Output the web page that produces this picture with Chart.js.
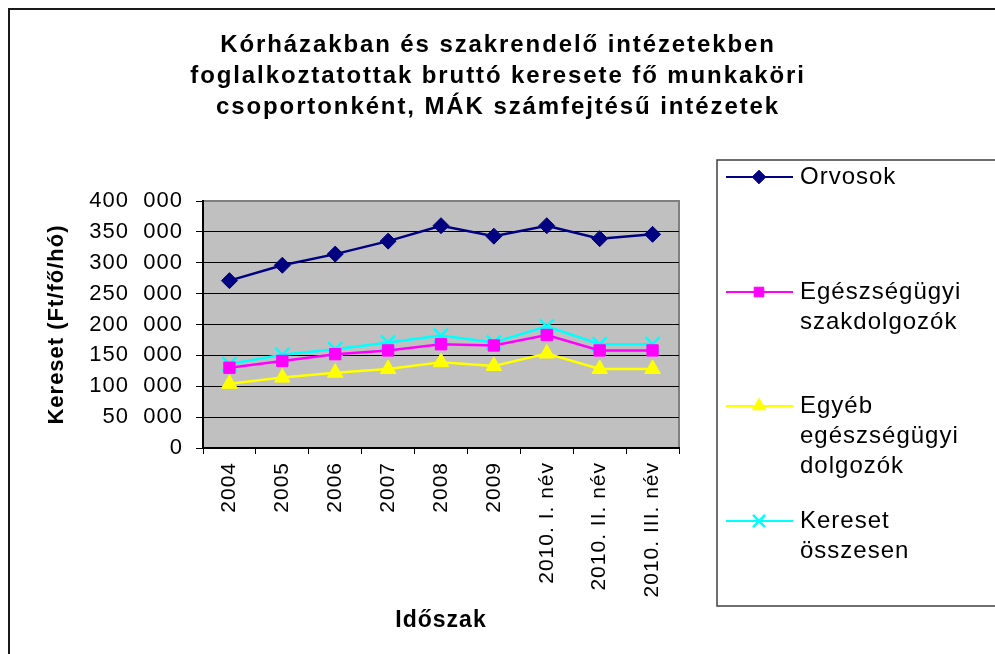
<!DOCTYPE html>
<html>
<head>
<meta charset="utf-8">
<script src="https://cdn.jsdelivr.net/npm/chart.js@4/dist/chart.umd.min.js"></script>
<style>
  html, body { margin: 0; padding: 0; background: #ffffff; }
  #wrap { width: 995px; height: 654px; }
</style>
</head>
<body>
<div id="wrap"><canvas id="c" width="995" height="654"></canvas></div>
<script>
// ---- data ----
const categories = ['2004', '2005', '2006', '2007', '2008', '2009', '2010. I. név', '2010. II. név', '2010. III. név'];
const orvosok = [271000, 296000, 314000, 335000, 360000, 343000, 360000, 339000, 346000];
const egeszsegugyiSzakdolgozok = [130000, 141000, 152000, 158000, 168000, 166000, 183000, 158000, 158000];
const egyebEgeszsegugyiDolgozok = [104000, 114000, 122000, 128000, 139000, 133000, 153000, 128000, 128000];
const keresetOsszesen = [136000, 151000, 160000, 171000, 182000, 171000, 197000, 168000, 168000];
const seriesNames = [['Orvosok'], ['Egészségügyi', 'szakdolgozók'], ['Egyéb', 'egészségügyi', 'dolgozók'], ['Kereset', 'összesen']];
const yTickValues = [0, 50000, 100000, 150000, 200000, 250000, 300000, 350000, 400000];
const titleLines = ['Kórházakban és szakrendelő intézetekben', 'foglalkoztatottak bruttó keresete fő munkaköri', 'csoportonként, MÁK számfejtésű intézetek'];
const yAxisTitle = 'Kereset (Ft/fő/hó)';
const xAxisTitle = 'Időszak';

const FONT = '"Liberation Sans", Arial, sans-serif';

function fmt(v) {
  const s = String(v);
  if (s.length <= 3) return s;
  return s.slice(0, s.length - 3) + '  ' + s.slice(s.length - 3);
}

const frame = {
  id: 'frame',
  beforeDraw(chart) {
    const ctx = chart.ctx;
    const a = chart.chartArea;
    ctx.save();
    ctx.fillStyle = '#ffffff';
    ctx.fillRect(0, 0, chart.width, chart.height);
    // outer border
    ctx.strokeStyle = '#1a1a1a';
    ctx.lineWidth = 2;
    ctx.strokeRect(9, 9, chart.width + 20, chart.height + 20);
    // plot background
    ctx.fillStyle = '#c0c0c0';
    ctx.fillRect(a.left, a.top, a.right - a.left, a.bottom - a.top);
    ctx.strokeStyle = '#808080';
    ctx.lineWidth = 2;
    ctx.beginPath();
    ctx.moveTo(a.left, a.top);
    ctx.lineTo(a.right, a.top);
    ctx.lineTo(a.right, a.bottom);
    ctx.stroke();
    ctx.restore();
    ctx.letterSpacing = '1px';
  },
  afterDraw(chart) {
    const ctx = chart.ctx;
    ctx.save();
    // title
    ctx.fillStyle = '#000000';
    ctx.letterSpacing = '1.9px';
    ctx.font = 'bold 24px ' + FONT;
    ctx.textAlign = 'center';
    ctx.textBaseline = 'alphabetic';
    titleLines.forEach((t, i) => ctx.fillText(t, 498, 52 + i * 31));
    // legend box
    ctx.letterSpacing = '0px';
    ctx.strokeStyle = '#404040';
    ctx.lineWidth = 1.5;
    ctx.strokeRect(717, 160, 400, 446);
    const ys = [177, 292, 406, 521];
    chart.data.datasets.forEach((ds, i) => {
      const y = ys[i];
      ctx.strokeStyle = ds.borderColor;
      ctx.lineWidth = 2;
      ctx.beginPath();
      ctx.moveTo(726, y);
      ctx.lineTo(793, y);
      ctx.stroke();
      ctx.fillStyle = ds.pointBackgroundColor;
      ctx.strokeStyle = ds.pointBorderColor;
      ctx.lineWidth = ds.pointBorderWidth;
      Chart.helpers.drawPoint(ctx, {pointStyle: ds.pointStyle, radius: ds.pointRadius * 0.85, rotation: 0, borderWidth: ds.pointBorderWidth}, 759, y);
      ctx.fillStyle = '#000000';
      ctx.letterSpacing = '1px';
      ctx.font = '24px ' + FONT;
      ctx.textAlign = 'left';
      ctx.textBaseline = 'middle';
      seriesNames[i].forEach((line, k) => ctx.fillText(line, 800, y + k * 30));
      ctx.letterSpacing = '0px';
    });
    ctx.restore();
  }
};

const datasets = [
  {label: seriesNames[0].join(' '), data: orvosok, borderColor: '#000080', pointBackgroundColor: '#000080', pointBorderColor: '#000080', pointStyle: 'rectRot', pointRadius: 8, pointBorderWidth: 1},
  {label: seriesNames[1].join(' '), data: egeszsegugyiSzakdolgozok, borderColor: '#ff00ff', pointBackgroundColor: '#ff00ff', pointBorderColor: '#ff00ff', pointStyle: 'rect', pointRadius: 8, pointBorderWidth: 1},
  {label: seriesNames[2].join(' '), data: egyebEgeszsegugyiDolgozok, borderColor: '#ffff00', pointBackgroundColor: '#ffff00', pointBorderColor: '#ffff00', pointStyle: 'triangle', pointRadius: 9, pointBorderWidth: 1},
  {label: seriesNames[3].join(' '), data: keresetOsszesen, borderColor: '#00ffff', pointBackgroundColor: '#00ffff', pointBorderColor: '#00ffff', pointStyle: 'crossRot', pointRadius: 10, pointBorderWidth: 2.5}
].map(d => Object.assign({borderWidth: 2.5, tension: 0, fill: false, pointHoverRadius: d.pointRadius}, d));

new Chart(document.getElementById('c'), {
  type: 'line',
  data: {labels: categories, datasets},
  options: {
    responsive: false,
    animation: false,
    devicePixelRatio: 1,
    layout: {padding: {left: 0, top: 201, right: 316, bottom: 0}},
    plugins: {legend: {display: false}, title: {display: false}, tooltip: {enabled: false}},
    scales: {
      x: {
        offset: true,
        grid: {display: true, offset: true, drawOnChartArea: false, color: '#000000', tickColor: '#000000', tickLength: 6, lineWidth: 1},
        border: {display: true, color: '#000000', width: 2},
        ticks: {color: '#000000', font: {family: FONT, size: 21}, minRotation: 90, maxRotation: 90, padding: 8, autoSkip: false},
        title: {display: true, text: xAxisTitle, color: '#000000', font: {family: FONT, size: 23, weight: 'bold'}, padding: {top: 0, bottom: 20}},
        afterFit(scale) { scale.height = 206; }
      },
      y: {
        min: 0, max: 400000,
        afterBuildTicks(scale) { scale.ticks = yTickValues.map(v => ({value: v})); },
        grid: {color: ctx => (ctx.tick && ctx.tick.value === 400000 ? '#808080' : '#000000'), tickColor: '#000000', tickLength: 7, lineWidth: 1},
        border: {display: true, color: '#000000', width: 2},
        ticks: {color: '#000000', font: {family: FONT, size: 22}, padding: 13, callback: v => fmt(v)},
        title: {display: true, text: yAxisTitle, color: '#000000', font: {family: FONT, size: 22, weight: 'bold'}, padding: {top: 44, bottom: 0}},
        afterFit(scale) { scale.width = 203; }
      }
    }
  },
  plugins: [frame]
});
</script>
</body>
</html>
